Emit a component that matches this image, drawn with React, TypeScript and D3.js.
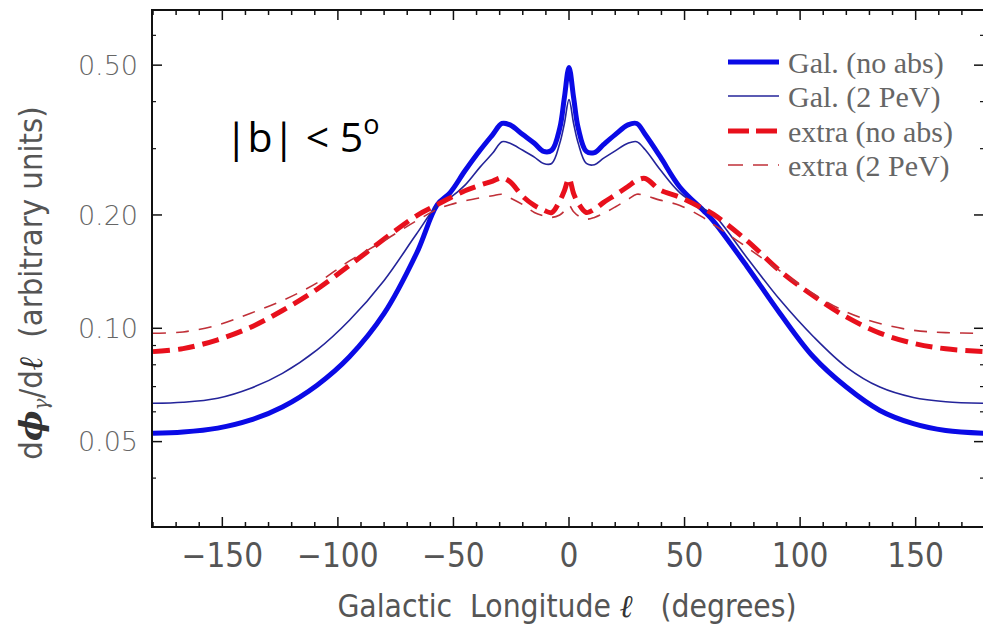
import React from "react";
import * as d3 from "d3";

// ---- data ----
const longitudes = [-180, -167, -152, -138, -124, -109, -95, -80, -66, -57, -51.5, -45, -38.5, -33, -29, -25.5, -20, -15, -11, -7.5, -4, -2, 0, 2, 4, 7.5, 11, 15, 20, 25.5, 29.3, 33, 39.4, 48, 58, 62.4, 77, 91.3, 105.7, 120, 134.5, 149, 163, 180];

const galNoAbs = [0.0526, 0.0530, 0.0543, 0.0570, 0.0618, 0.0706, 0.0840, 0.1095, 0.158, 0.213, 0.229, 0.262, 0.297, 0.327, 0.350, 0.347, 0.327, 0.310, 0.295, 0.297, 0.340, 0.410, 0.493, 0.410, 0.340, 0.295, 0.293, 0.308, 0.327, 0.347, 0.350, 0.327, 0.286, 0.237, 0.206, 0.193, 0.146, 0.1095, 0.0840, 0.0698, 0.0605, 0.0558, 0.0535, 0.0526];

const galPeV = [0.0632, 0.0636, 0.0652, 0.0692, 0.0759, 0.0876, 0.1050, 0.1340, 0.178, 0.212, 0.222, 0.240, 0.268, 0.292, 0.313, 0.310, 0.297, 0.285, 0.274, 0.274, 0.310, 0.350, 0.405, 0.350, 0.310, 0.274, 0.272, 0.283, 0.296, 0.310, 0.313, 0.298, 0.264, 0.229, 0.208, 0.201, 0.154, 0.119, 0.0951, 0.0789, 0.0698, 0.0655, 0.0638, 0.0632];

const extraNoAbs = [0.0867, 0.0883, 0.0932, 0.1005, 0.1115, 0.127, 0.147, 0.1726, 0.199, 0.213, 0.222, 0.232, 0.240, 0.246, 0.251, 0.245, 0.224, 0.212, 0.206, 0.203, 0.218, 0.232, 0.250, 0.228, 0.215, 0.203, 0.207, 0.216, 0.226, 0.238, 0.247, 0.250, 0.233, 0.223, 0.208, 0.201, 0.171, 0.142, 0.1220, 0.1072, 0.0971, 0.0912, 0.0882, 0.0867];

const extraPeV = [0.0970, 0.0978, 0.1020, 0.1095, 0.1185, 0.132, 0.151, 0.171, 0.193, 0.207, 0.213, 0.218, 0.222, 0.225, 0.227, 0.222, 0.213, 0.203, 0.199, 0.197, 0.200, 0.205, 0.212, 0.204, 0.199, 0.195, 0.197, 0.202, 0.210, 0.220, 0.227, 0.225, 0.219, 0.212, 0.197, 0.189, 0.164, 0.142, 0.1235, 0.1105, 0.1030, 0.0988, 0.0974, 0.0970];

const seriesNames = ["Gal. (no abs)", "Gal. (2 PeV)", "extra (no abs)", "extra (2 PeV)"];
const xTickLabels = [-150, -100, -50, 0, 50, 100, 150];
const yTickLabels = [0.05, 0.1, 0.2, 0.5];
const yMinorTicks = [0.04, 0.06, 0.07, 0.08, 0.09, 0.3, 0.4, 0.6];

// ---- layout ----
const W = 983;
const H = 627;
const L = 152;
const R = 985;
const T = 10;
const B = 527;

const styles = [
  { color: "#0a0ae6", width: 5, dash: null, legendDash: null },
  { color: "#24249a", width: 1.6, dash: null, legendDash: null },
  { color: "#e8101c", width: 5, dash: "17,8", legendDash: "21,7" },
  { color: "#c03038", width: 1.6, dash: "13,10", legendDash: "15,10" },
];

export default function App() {
  const x = d3.scaleLinear().domain([-180, 180]).range([L + 1, R]);
  const y = d3.scaleLog().domain([0.02966, 0.7006]).range([B, T]);
  const data = [galNoAbs, galPeV, extraNoAbs, extraPeV];
  const line = d3
    .line<[number, number]>()
    .x((d) => x(d[0]))
    .y((d) => y(d[1]))
    .curve(d3.curveCatmullRom.alpha(0.5));

  const xTicks = d3.range(-180, 181, 10);
  const narrow = "'Liberation Sans Narrow', 'DejaVu Sans Condensed', sans-serif";
  const ital = "'DejaVu Serif', serif";

  return (
    <svg width={W} height={H} style={{ position: "fixed", left: 0, top: 0, background: "#fff" }}>
      <defs>
        <clipPath id="plot">
          <rect x={L} y={T} width={R - L} height={B - T} />
        </clipPath>
      </defs>
      <rect x={0} y={0} width={W} height={H} fill="#fff" />

      {/* curves */}
      <g clipPath="url(#plot)">
        {data.map((vals, i) => (
          <path
            key={i}
            d={line(longitudes.map((l, j) => [l, vals[j]] as [number, number])) || ""}
            fill="none"
            stroke={styles[i].color}
            strokeWidth={styles[i].width}
            strokeDasharray={styles[i].dash || undefined}
            strokeLinejoin="round"
          />
        ))}
      </g>

      {/* frame */}
      <rect x={L} y={T} width={R - L} height={B - T} fill="none" stroke="#111" strokeWidth={2} />

      {/* x ticks */}
      {xTicks.map((t) => {
        const len = t % 50 === 0 ? 10 : 5;
        const px = x(t);
        return (
          <g key={"xt" + t} stroke="#111" strokeWidth={1.5}>
            <line x1={px} x2={px} y1={B} y2={B - len} />
            <line x1={px} x2={px} y1={T} y2={T + len} />
          </g>
        );
      })}
      {xTickLabels.map((t) => (
        <text
          key={"xl" + t}
          x={x(t)}
          y={567}
          textAnchor="middle"
          fontFamily={narrow}
          fontSize={33}
          fill="#555"
        >
          {t < 0 ? "\u2212" + Math.abs(t) : String(t)}
        </text>
      ))}

      {/* y ticks */}
      {yTickLabels.map((t) => (
        <g key={"yt" + t} stroke="#111" strokeWidth={1.5}>
          <line x1={L} x2={L + 10} y1={y(t)} y2={y(t)} />
          <line x1={R - 1} x2={R - 11} y1={y(t)} y2={y(t)} />
        </g>
      ))}
      {yMinorTicks.map((t) => (
        <g key={"ym" + t} stroke="#111" strokeWidth={1.2}>
          <line x1={L} x2={L + 4} y1={y(t)} y2={y(t)} />
          <line x1={R - 1} x2={R - 5} y1={y(t)} y2={y(t)} />
        </g>
      ))}
      {yTickLabels.map((t) => (
        <text
          key={"yl" + t}
          x={138}
          y={y(t)}
          dy="0.36em"
          textAnchor="end"
          fontFamily="'DejaVu Sans', sans-serif"
          fontWeight={200}
          fontSize={27}
          fill="#666"
        >
          {t.toFixed(2)}
        </text>
      ))}

      {/* axis titles */}
      <text
        x={567}
        y={617}
        textAnchor="middle"
        fontFamily={narrow}
        fontSize={31.5}
        fill="#555"
      >
        Galactic{"\u00a0\u00a0"}Longitude{" "}
        <tspan fontFamily={ital} fontStyle="italic" fontWeight="bold" fill="#333">ℓ</tspan>
        {"\u00a0\u00a0\u00a0"}(degrees)
      </text>
      <text
        transform="translate(42,283) rotate(-90)"
        textAnchor="middle"
        fontFamily={narrow}
        fontSize={32.5}
        fill="#555"
      >
        d
        <tspan fontFamily={ital} fontStyle="italic" fontWeight="bold" fill="#333">ϕ</tspan>
        <tspan fontFamily={ital} fontStyle="italic" fontSize={20} dy={6}>γ</tspan>
        <tspan dy={-6}>/d</tspan>
        <tspan fontFamily={ital} fontStyle="italic" fontWeight="bold" fill="#333">ℓ</tspan>
        {"\u00a0\u00a0"}(arbitrary units)
      </text>

      {/* legend */}
      {seriesNames.map((name, i) => {
        const ly = [62, 96, 131, 165][i];
        return (
          <g key={name}>
            <line
              x1={728}
              x2={779}
              y1={ly}
              y2={ly}
              stroke={styles[i].color}
              strokeWidth={styles[i].width}
              strokeDasharray={styles[i].legendDash || undefined}
            />
            <text
              x={788}
              y={ly}
              dy="0.35em"
              fontFamily="'Liberation Serif', serif"
              fontSize={30}
              fill="#666"
            >
              {name}
            </text>
          </g>
        );
      })}

      {/* annotation */}
      <text x={225} y={152} fontFamily="'Open Sans', sans-serif" fontSize={41} fill="#000">
        |b| &lt; 5
        <tspan fontSize={27} dy={-18}>o</tspan>
      </text>
    </svg>
  );
}
